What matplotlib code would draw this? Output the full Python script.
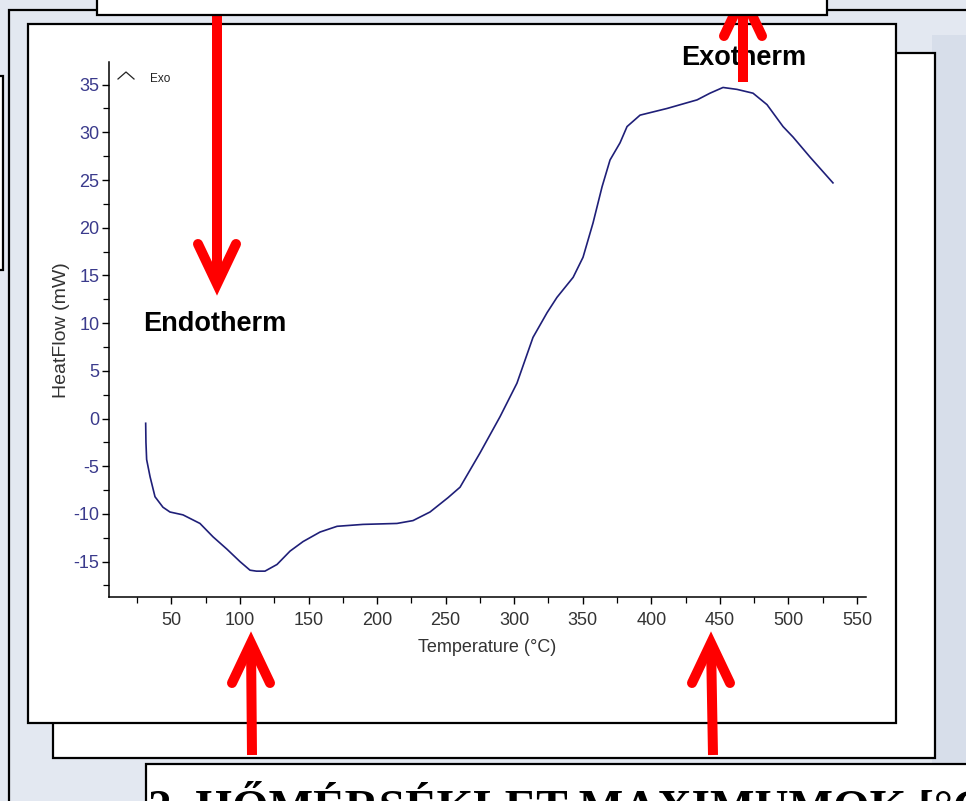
import matplotlib.pyplot as plt
from matplotlib.patches import Rectangle
from matplotlib.ticker import FixedLocator

# DSC curve
temperature = [31.2, 31.4, 31.9, 34.4, 38.0, 43.8, 48.9, 58.4, 70.8, 80.3, 90.5,
               100.0, 107.3, 112.0, 118.2, 127.0, 136.5, 146.0, 158.4, 170.8,
               189.7, 214.5, 226.2, 238.6, 251.7, 260.5, 275.1, 289.7, 302.0,
               313.7, 324.0, 331.2, 343.0, 350.2, 357.5, 364.1, 369.9, 377.2,
               382.3, 391.8, 411.5, 433.4, 442.8, 452.3, 462.5, 474.2, 484.4,
               496.1, 503.4, 515.8, 532.5]
heatflow = [-0.5, -2.5, -4.3, -6.1, -8.2, -9.3, -9.8, -10.1, -11.0, -12.4, -13.7,
            -15.0, -15.9, -16.0, -16.0, -15.3, -13.9, -12.9, -11.9, -11.3,
            -11.1, -11.0, -10.7, -9.8, -8.3, -7.2, -3.6, 0.2, 3.7,
            8.5, 11.1, 12.7, 14.8, 16.9, 20.5, 24.3, 27.1, 28.9,
            30.6, 31.8, 32.5, 33.4, 34.1, 34.7, 34.5, 34.1, 32.9,
            30.6, 29.5, 27.4, 24.7]

x_ticks = list(range(50, 551, 50))
y_ticks = list(range(-15, 36, 5))
title_text = '2. HŐMÉRSÉKLET MAXIMUMOK [°C]'

W, H = 966, 801
plt.rcParams['font.family'] = ['Liberation Sans', 'DejaVu Sans']
plt.rcParams['axes.unicode_minus'] = False

fig = plt.figure(figsize=(W / 100, H / 100), dpi=100)
fig.patch.set_facecolor('#e3e8f1')

# slide background layer (pixel coords)
bg = fig.add_axes([0, 0, 1, 1], zorder=0)
bg.set_xlim(0, W)
bg.set_ylim(H, 0)
bg.axis('off')

def box(a, x0, y0, x1, y1, fc='white', ec='black', lw=1.6, z=1):
    a.add_patch(Rectangle((x0, y0), x1 - x0, y1 - y0, facecolor=fc,
                          edgecolor=ec, linewidth=lw, zorder=z))

box(bg, 9, 10, 1000, 1000, fc='#e3e8f1', z=1)
box(bg, -10, 76, 3, 270, fc='white', z=1)
box(bg, 932, 35, 1000, 1000, fc='#d7deea', ec='none', lw=0, z=2)
box(bg, 53, 53, 935, 758, z=3)
box(bg, 28, 24, 896, 723, z=4)
box(bg, 146, 764, 1000, 1000, z=5)
# slide title, cut by the bottom edge as in the screenshot
fig.text(148 / W, 1 - 822 / H, title_text, family='Liberation Serif',
         fontweight='bold', fontsize=34, ha='left', va='baseline', zorder=6)

# chart axes
L, R, T, B = 109, 866, 62, 597
ax = fig.add_axes([L / W, 1 - B / H, (R - L) / W, (B - T) / H], zorder=1)
ax.patch.set_alpha(0)
ax.plot(temperature, heatflow, color='#1f1f78', linewidth=1.2)
ax.set_xlim(4.45, 556.6)
ax.set_ylim(-18.71, 37.37)
ax.set_xticks(x_ticks)
ax.set_yticks(y_ticks)
ax.xaxis.set_minor_locator(FixedLocator([t - 25 for t in x_ticks] + [575]))
ax.yaxis.set_minor_locator(FixedLocator([v - 2.5 for v in y_ticks] + [37.5]))
for s in ['top', 'right']:
    ax.spines[s].set_visible(False)
for s in ['left', 'bottom']:
    ax.spines[s].set_linewidth(1.1)
ax.tick_params(which='major', direction='out', length=5, width=1)
ax.tick_params(which='minor', direction='out', length=4, width=0.9)
ax.tick_params(axis='x', labelsize=13, labelcolor='#333333', pad=6)
ax.tick_params(axis='y', labelsize=13, labelcolor='#3a3a8c', pad=2)

fig.text(487 / W, 1 - 647 / H, 'Temperature (°C)', fontsize=13, color='#333333',
         ha='center', va='center')
fig.text(61 / W, 1 - 330 / H, 'HeatFlow (mW)', fontsize=14, color='#333333',
         rotation=90, ha='center', va='center')

# overlay: annotations, arrows, top box
ov = fig.add_axes([0, 0, 1, 1], zorder=2)
ov.set_xlim(0, W)
ov.set_ylim(H, 0)
ov.axis('off')
ov.patch.set_alpha(0)

ov.plot([118, 126, 134], [79, 72, 79], color='#222222', lw=0.9)
ov.text(150, 79, 'Exo', fontsize=8.5, color='#222222', ha='left', va='center')
ov.text(215, 324, 'Endotherm', fontsize=19.5, fontweight='bold', ha='center',
        va='center', zorder=2)
ov.text(744, 58, 'Exotherm', fontsize=19.5, fontweight='bold', ha='center',
        va='center', zorder=2)

def arrow(tail, tip):
    (x0, y0), (x1, y1) = tail, tip
    d = 1 if y1 > y0 else -1
    ov.plot([x0, x1], [y0, y1], color='red', lw=7.2, solid_capstyle='butt', zorder=3)
    ov.plot([x1 - 19, x1, x1 + 19], [y1 - d * 40, y1, y1 - d * 40], color='red',
            lw=7.2, solid_capstyle='round', solid_joinstyle='miter', zorder=3)

arrow((217, 0), (217, 284))
arrow((743, 82), (743, -4))
arrow((252, 755), (251, 643))
arrow((713, 755), (711, 643))

box(ov, 97, -10, 827, 15, z=5)

fig.savefig('out.png', dpi=100)
